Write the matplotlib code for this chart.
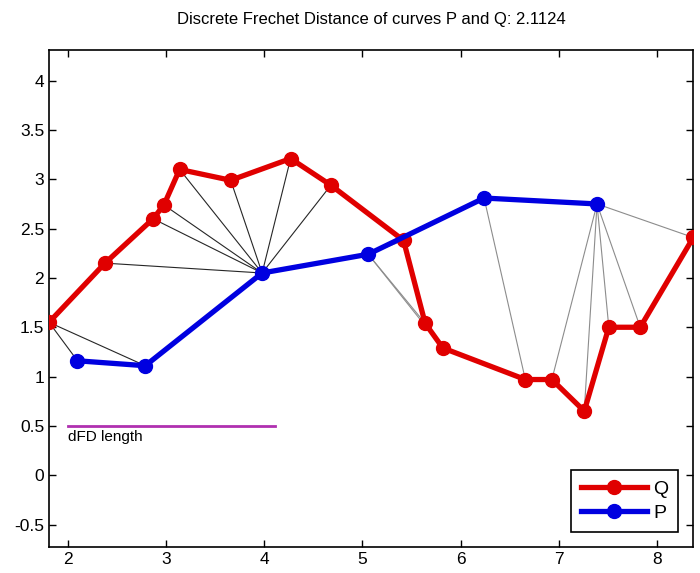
import matplotlib
matplotlib.use("Agg")
import matplotlib.pyplot as plt

plt.rcParams['font.family'] = ['Liberation Sans Narrow', 'Liberation Sans', 'DejaVu Sans']

# curve Q (red)
q_x = [1.81, 2.38, 2.87, 2.98, 3.14, 3.66, 4.27, 4.68, 5.42, 5.64, 5.82, 6.66, 6.93, 7.26, 7.51, 7.83, 8.37]
q_y = [1.55, 2.15, 2.60, 2.74, 3.10, 2.99, 3.21, 2.94, 2.38, 1.54, 1.29, 0.97, 0.97, 0.65, 1.50, 1.50, 2.41]

# curve P (blue)
p_x = [2.10, 2.79, 3.98, 5.06, 6.24, 7.39]
p_y = [1.16, 1.11, 2.05, 2.24, 2.81, 2.75]

# coupling pairs (index into Q, index into P)
coupling_q = [0, 0, 1, 2, 3, 4, 5, 6, 7, 8, 9, 10, 11, 12, 13, 14, 15, 16]
coupling_p = [0, 1, 2, 2, 2, 2, 2, 2, 2, 3, 3, 3, 4, 5, 5, 5, 5, 5]

dfd = 2.1124
dfd_start = 2.0
dfd_y = 0.5

fig = plt.figure(figsize=(7.0, 5.73), dpi=100)
ax = fig.add_axes([0.07, 0.045, 0.9204, 0.8676])

for i, (qi, pi) in enumerate(zip(coupling_q, coupling_p)):
    c = '0.15' if i < 9 else '0.55'
    ax.plot([q_x[qi], p_x[pi]], [q_y[qi], p_y[pi]], color=c, lw=0.8, zorder=1)

ax.plot(q_x, q_y, '-o', color='#e00000', lw=3.8, ms=10, mfc='#e00000', mec='#e00000',
        label='Q', zorder=3)
ax.plot(p_x, p_y, '-o', color='#0000e0', lw=3.8, ms=10, mfc='#0000e0', mec='#0000e0',
        label='P', zorder=3)

ax.plot([dfd_start, dfd_start + dfd], [dfd_y, dfd_y], color='#b030b0', lw=2, zorder=2)
ax.text(dfd_start, dfd_y - 0.04, 'dFD length', ha='left', va='top', fontsize=11)

ax.set_xlim(1.81, 8.37)
ax.set_ylim(-0.73, 4.31)
ax.set_xticks([2, 3, 4, 5, 6, 7, 8])
ax.set_yticks([-0.5, 0, 0.5, 1, 1.5, 2, 2.5, 3, 3.5, 4])
ax.set_yticklabels(['-0.5', '0', '0.5', '1', '1.5', '2', '2.5', '3', '3.5', '4'])
ax.tick_params(direction='in', top=True, right=True, length=5, labelsize=12.5, width=1)
for s in ax.spines.values():
    s.set_linewidth(1.2)

ax.set_title('Discrete Frechet Distance of curves P and Q: ' + str(dfd), fontsize=12, pad=19)

leg = ax.legend(loc='lower right', fontsize=14, fancybox=False, framealpha=1,
                edgecolor='black', handlelength=3.4, borderaxespad=0.8, handletextpad=0.3,
                labelspacing=0.35, borderpad=0.5)
leg.get_frame().set_linewidth(1.2)

fig.savefig('out.png', dpi=100)
